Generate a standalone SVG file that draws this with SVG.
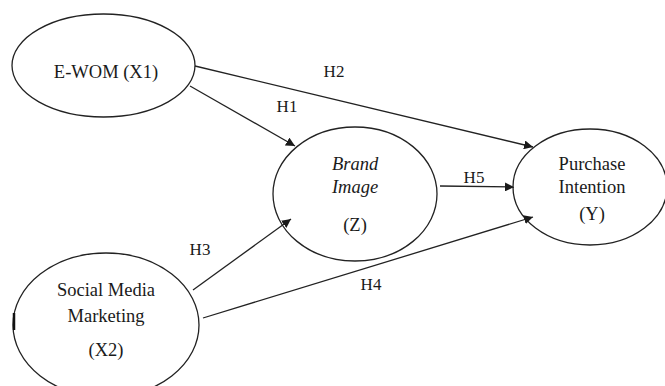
<svg xmlns="http://www.w3.org/2000/svg" width="665" height="386" viewBox="0 0 665 386">
<defs>
<marker id="arr" viewBox="0 0 10 10" refX="10" refY="5" markerWidth="9" markerHeight="9" markerUnits="userSpaceOnUse" orient="auto">
<path d="M0,0 L10,5 L0,10 z" fill="#1a1a1a"/>
</marker>
<style>
.node{fill:#fff;stroke:#222;stroke-width:1.3}
.t{font-size:18.5px;fill:#1a1a1a;text-anchor:middle}
.it{font-style:italic}
.lbl{font-size:17px;fill:#1a1a1a;text-anchor:middle}
.edge{stroke:#222;stroke-width:1.3;fill:none;marker-end:url(#arr)}
</style>
</defs>
<rect width="665" height="386" fill="#fff"/>
<g font-family="'Liberation Serif', 'DejaVu Serif', serif">
<g id="ewom">
<ellipse class="node" cx="103.5" cy="65.5" rx="91.5" ry="51.5"/>
<text class="t" x="106" y="78">E-WOM (X1)</text>
</g>
<g id="brand-image">
<ellipse class="node" cx="355" cy="194" rx="82" ry="67"/>
<text class="t it" x="355" y="170">Brand</text>
<text class="t it" x="355" y="193">Image</text>
<text class="t" x="355" y="231">(Z)</text>
</g>
<g id="purchase-intention">
<ellipse class="node" cx="590" cy="187" rx="77" ry="58"/>
<text class="t" x="592" y="170">Purchase</text>
<text class="t" x="592" y="193">Intention</text>
<text class="t" x="592" y="220">(Y)</text>
</g>
<g id="social-media-marketing">
<ellipse class="node" cx="106" cy="325" rx="93" ry="72"/>
<line x1="14" y1="313" x2="14" y2="330" stroke="#111" stroke-width="2.5"/>
<text class="t" x="106" y="296">Social Media</text>
<text class="t" x="106" y="322">Marketing</text>
<text class="t" x="106" y="356">(X2)</text>
</g>
<g id="connectors">
<line class="edge" x1="195" y1="66" x2="533" y2="147"/>
<line class="edge" x1="190" y1="86" x2="295" y2="146"/>
<line class="edge" x1="440" y1="186" x2="514" y2="187"/>
<line class="edge" x1="193" y1="290" x2="291" y2="219"/>
<line class="edge" x1="203" y1="318" x2="533" y2="217"/>
<text class="lbl" x="334" y="77">H2</text>
<text class="lbl" x="287" y="112">H1</text>
<text class="lbl" x="474" y="183">H5</text>
<text class="lbl" x="200" y="255">H3</text>
<text class="lbl" x="371" y="290">H4</text>
</g>
</g>
</svg>
